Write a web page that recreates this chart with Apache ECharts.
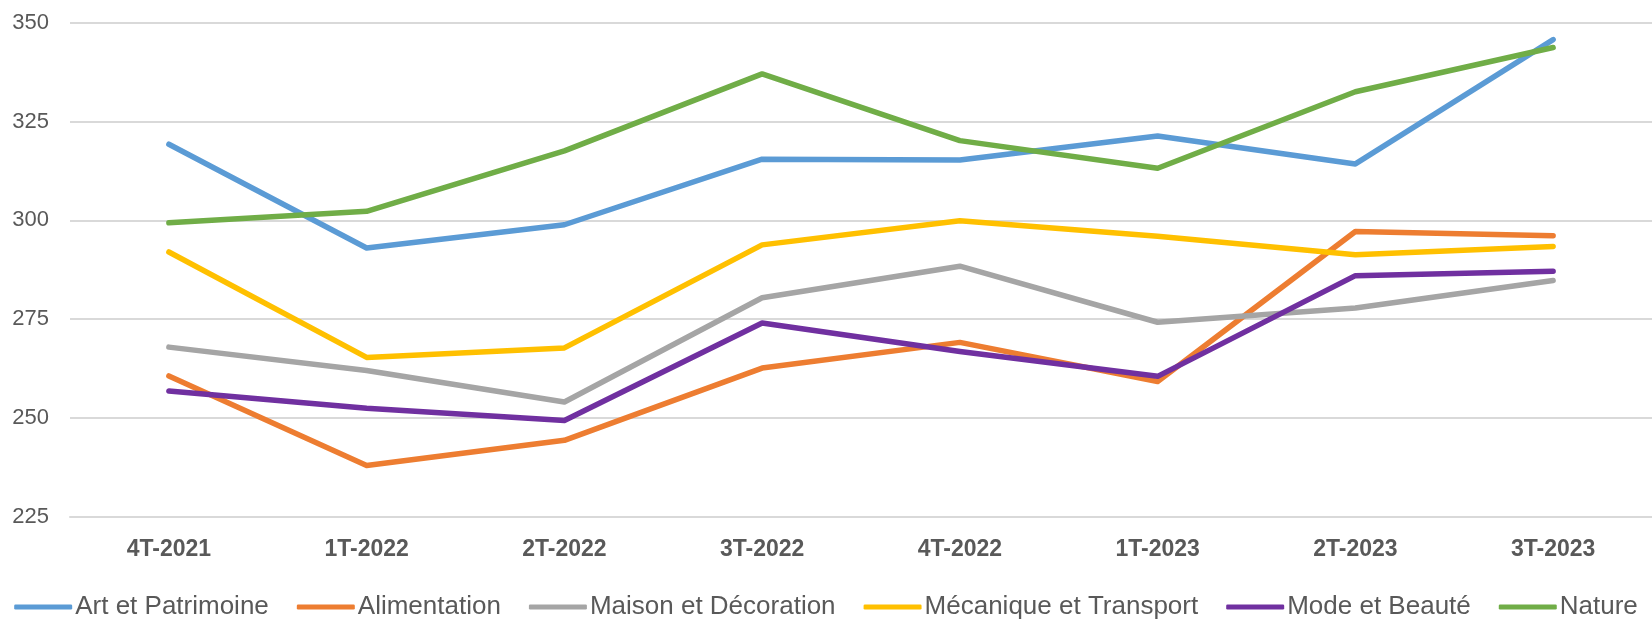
<!DOCTYPE html>
<html>
<head>
<meta charset="utf-8">
<script src="https://cdn.jsdelivr.net/npm/echarts@6/dist/echarts.min.js"></script>
<style>
html,body{margin:0;padding:0;background:#fff;}
#chart{width:1652px;height:620px;}
</style>
</head>
<body>
<div id="chart"></div>
<script>
const categories = ['4T-2021','1T-2022','2T-2022','3T-2022','4T-2022','1T-2023','2T-2023','3T-2023'];
const yTicks = [225, 250, 275, 300, 325, 350];
const artPatrimoine = [319.3, 293.0, 298.9, 315.5, 315.3, 321.4, 314.3, 345.8];
const alimentation = [260.6, 237.9, 244.3, 262.6, 269.1, 259.2, 297.2, 296.1];
const maisonDecoration = [267.9, 262.0, 254.0, 280.4, 288.4, 274.2, 277.8, 284.8];
const mecaniqueTransport = [292.0, 265.3, 267.7, 293.8, 299.9, 296.0, 291.3, 293.4];
const modeBeaute = [256.8, 252.4, 249.3, 274.0, 266.8, 260.5, 286.0, 287.1];
const nature = [299.4, 302.3, 317.6, 337.1, 320.2, 313.2, 332.6, 343.8];

const seriesDefs = [
  {name: 'Art et Patrimoine', data: artPatrimoine, color: '#5B9BD5'},
  {name: 'Alimentation', data: alimentation, color: '#ED7D31'},
  {name: 'Maison et Décoration', data: maisonDecoration, color: '#A5A5A5'},
  {name: 'Mécanique et Transport', data: mecaniqueTransport, color: '#FFC000'},
  {name: 'Mode et Beauté', data: modeBeaute, color: '#7030A0'},
  {name: 'Nature', data: nature, color: '#70AD47'}
];

const chart = echarts.init(document.getElementById('chart'), null, {renderer: 'canvas'});
const font = '"Liberation Sans", Arial, sans-serif';
chart.setOption({
  animation: false,
  backgroundColor: '#ffffff',
  color: seriesDefs.map(s => s.color),
  grid: {left: 70, right: 0, top: 23, bottom: 103.5, containLabel: false},
  legend: {
    top: 594,
    left: 'center',
    icon: 'roundRect',
    itemWidth: 58,
    itemHeight: 5,
    itemGap: 28,
    padding: 0,
    textStyle: {fontFamily: font, fontSize: 26, color: '#595959', padding: [0,0,0,-2]},
    data: seriesDefs.map(s => s.name)
  },
  xAxis: {
    type: 'category',
    data: categories,
    boundaryGap: true,
    axisLine: {show: true, lineStyle: {color: '#D9D9D9', width: 2}},
    axisTick: {show: false},
    axisLabel: {fontFamily: font, fontSize: 23, fontWeight: 'bold', color: '#595959', margin: 22},
    splitLine: {show: false}
  },
  yAxis: {
    type: 'value',
    min: yTicks[0],
    max: yTicks[yTicks.length - 1],
    interval: 25,
    axisLine: {show: false},
    axisTick: {show: false},
    axisLabel: {fontFamily: font, fontSize: 22, color: '#595959', margin: 21},
    splitLine: {lineStyle: {color: '#D9D9D9', width: 2}}
  },
  series: seriesDefs.map(s => ({
    name: s.name,
    type: 'line',
    data: s.data,
    symbol: 'none',
    smooth: false,
    lineStyle: {width: 5.5, color: s.color, cap: 'round', join: 'round'},
    itemStyle: {color: s.color}
  }))
});
</script>
</body>
</html>
